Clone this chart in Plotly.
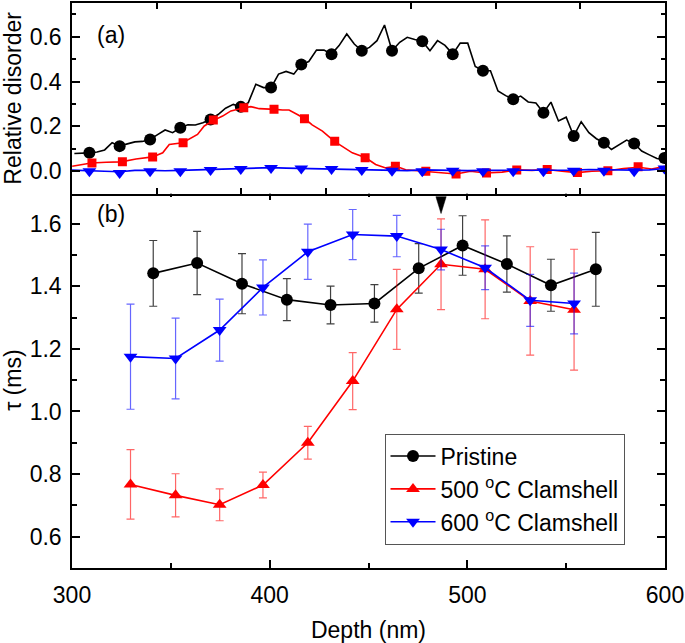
import plotly.graph_objects as go

# ---------------- Panel (a): relative disorder ----------------
# Pristine: dense line + sparse markers
pris_line_x = [301.2, 305.0, 308.8, 312.7, 316.5, 320.3, 324.1, 328.0, 331.8, 335.6,
               339.5, 343.3, 347.1, 350.9, 354.8, 358.6, 362.4, 366.2, 370.1, 373.9,
               377.7, 381.6, 385.4, 389.2, 393.0, 396.9, 400.7, 404.5, 408.3, 412.2,
               416.0, 419.8, 423.7, 427.5, 431.3, 435.1, 439.0, 442.8, 446.6, 450.5,
               454.3, 458.1, 461.9, 465.8, 469.6, 473.4, 477.2, 481.1, 484.9, 488.7,
               492.6, 496.4, 500.2, 504.0, 507.9, 511.7, 515.5, 519.4, 523.2, 527.0,
               530.8, 534.7, 538.5, 542.3, 546.1, 550.0, 553.8, 557.6, 561.5, 565.3,
               569.1, 572.9, 576.8, 580.6, 584.4, 588.2, 592.1, 595.9, 599.7]
pris_line_y = [0.079, 0.080, 0.082, 0.086, 0.095, 0.127, 0.112, 0.122, 0.131, 0.133,
               0.142, 0.163, 0.184, 0.172, 0.194, 0.207, 0.206, 0.216, 0.231, 0.253,
               0.281, 0.298, 0.287, 0.306, 0.388, 0.373, 0.373, 0.433, 0.445, 0.433,
               0.476, 0.489, 0.540, 0.540, 0.522, 0.560, 0.612, 0.567, 0.537, 0.552,
               0.582, 0.652, 0.537, 0.575, 0.597, 0.587, 0.580, 0.537, 0.582, 0.561,
               0.522, 0.571, 0.571, 0.467, 0.448, 0.448, 0.358, 0.337, 0.321, 0.335,
               0.309, 0.304, 0.261, 0.308, 0.224, 0.241, 0.157, 0.221, 0.172, 0.145,
               0.127, 0.097, 0.118, 0.139, 0.124, 0.090, 0.073, 0.057, 0.051]
pris_mark_x = [308.8, 324.1, 339.5, 354.8, 370.1, 385.4, 400.7, 416.0, 431.3, 446.6,
               461.9, 477.2, 492.6, 507.9, 523.2, 538.5, 553.8, 569.1, 584.4, 599.7]
pris_mark_y = [0.082, 0.112, 0.142, 0.194, 0.231, 0.287, 0.373, 0.476, 0.522, 0.537,
               0.537, 0.580, 0.522, 0.448, 0.321, 0.261, 0.157, 0.127, 0.124, 0.059]

# 500 C clamshell (panel a)
c500_line_x = [300.1, 309.7, 317.3, 324.8, 332.4, 340.8, 345.9, 349.2, 356.0, 360.2,
               363.5, 366.9, 371.9, 376.2, 380.4, 387.1, 390.5, 394.7, 398.1, 402.8,
               406.5, 409.8, 414.0, 417.8, 421.5, 426.7, 432.6, 436.8, 441.8, 448.6,
               453.6, 458.7, 464.0, 468.8, 473.8, 479.7, 486.5, 494.3, 501.6, 509.2,
               517.6, 525.2, 532.7, 540.3, 547.9, 555.5, 563.0, 571.1, 579.0, 586.6,
               593.3, 600.0]
c500_line_y = [0.022, 0.037, 0.040, 0.042, 0.055, 0.064, 0.082, 0.119, 0.127, 0.149,
               0.164, 0.202, 0.228, 0.246, 0.269, 0.283, 0.288, 0.279, 0.279, 0.276,
               0.273, 0.273, 0.253, 0.234, 0.207, 0.179, 0.134, 0.112, 0.082, 0.060,
               0.030, 0.015, 0.022, 0.007, 0.003, 0.000, -0.008, -0.012, 0.000, -0.008,
               -0.004, 0.006, 0.004, 0.008, 0.000, -0.006, 0.000, 0.002, 0.012, 0.018,
               0.010, 0.022]
c500_mark_x = [310.1, 325.5, 340.8, 356.2, 371.5, 386.9, 402.2, 417.6, 432.9, 448.3,
               463.6, 479.0, 494.3, 509.7, 525.0, 540.4, 555.7, 571.1, 586.4]
c500_mark_y = [0.037, 0.042, 0.064, 0.127, 0.228, 0.283, 0.276, 0.234, 0.134, 0.060,
               0.022, 0.000, -0.012, -0.008, 0.006, 0.008, -0.006, 0.002, 0.020]

# 600 C clamshell (panel a)
c600_line_x = [300.0, 308.8, 316.5, 324.1, 331.8, 339.5, 347.1, 354.8, 362.4, 370.1,
               377.7, 385.4, 393.0, 400.7, 408.3, 416.0, 423.7, 431.3, 439.0, 446.6,
               454.3, 461.9, 469.6, 477.2, 484.9, 492.6, 500.2, 507.9, 515.5, 523.2,
               530.8, 538.5, 546.1, 553.8, 561.5, 569.1, 576.8, 584.4, 592.1, 599.7]
c600_line_y = [0.005, 0.004, 0.000, -0.002, 0.004, 0.004, 0.002, 0.004, 0.006, 0.010,
               0.012, 0.013, 0.016, 0.016, 0.014, 0.013, 0.012, 0.011, 0.010, 0.008,
               0.006, 0.004, 0.003, 0.006, 0.004, 0.002, 0.003, 0.004, 0.004, 0.004,
               0.004, 0.004, 0.004, 0.005, 0.008, 0.006, 0.004, 0.005, 0.006, 0.012]
c600_mark_x = [308.8, 324.1, 339.5, 354.8, 370.1, 385.4, 400.7, 416.0, 431.3, 446.6,
               461.9, 477.2, 492.6, 507.9, 523.2, 538.5, 553.8, 569.1, 584.4, 599.7]
c600_mark_y = [0.000, -0.008, 0.000, 0.000, 0.006, 0.010, 0.014, 0.012, 0.010, 0.006,
               0.002, 0.000, 0.002, 0.000, 0.000, 0.000, 0.002, 0.002, 0.000, 0.012]

# ---------------- Panel (b): tau (ms) ----------------
pris_tau_x = [341.1, 363.3, 386.0, 408.7, 430.8, 453.0, 475.4, 497.6, 520.0, 542.3, 565.0]
pris_tau = [1.441, 1.474, 1.408, 1.357, 1.340, 1.345, 1.457, 1.530, 1.471, 1.403, 1.454]
pris_err = [0.105, 0.101, 0.096, 0.067, 0.060, 0.060, 0.079, 0.095, 0.090, 0.083, 0.118]

c_tau_x = [329.6, 352.4, 374.7, 396.6, 419.3, 442.0, 464.3, 486.7, 509.0, 531.8, 554.0]
c500_tau = [0.767, 0.732, 0.702, 0.765, 0.900, 1.097, 1.326, 1.470, 1.454, 1.353, 1.325]
c500_err = [0.111, 0.069, 0.051, 0.041, 0.052, 0.091, 0.128, 0.145, 0.158, 0.173, 0.193]
c600_tau = [1.175, 1.169, 1.260, 1.396, 1.510, 1.565, 1.560, 1.517, 1.459, 1.355, 1.345]
c600_err = [0.168, 0.129, 0.099, 0.088, 0.088, 0.080, 0.066, 0.065, 0.070, 0.083, 0.097]

# arrow marking a depth at the top of panel (b): tip position
arrow_x = 486.7
arrow_y = 1.632
ARROW_HALF_W = 2.6     # nm (style: half width of arrowhead)
ARROW_H = 0.054        # ms (style: arrowhead height)

names = ["Pristine", "500 <sup>o</sup>C Clamshell", "600 <sup>o</sup>C Clamshell"]
x_ticks_a = [300 + 300 * k / 7 for k in range(8)]

FONT = "Liberation Sans, Arial, sans-serif"
FS = 23
BLACK, RED, BLUE = "#000000", "#ff0000", "#0000ff"

fig = go.Figure()

# panel (a) traces
for lx, ly, mx, my, col, sym, sz in [
    (pris_line_x, pris_line_y, pris_mark_x, pris_mark_y, BLACK, "circle", 12),
    (c500_line_x, c500_line_y, c500_mark_x, c500_mark_y, RED, "square", 9),
    (c600_line_x, c600_line_y, c600_mark_x, c600_mark_y, BLUE, "triangle-down", 12),
]:
    fig.add_trace(go.Scatter(x=lx, y=ly, mode="lines", line=dict(color=col, width=1.6),
                             xaxis="x2", yaxis="y2", showlegend=False, hoverinfo="skip"))
    fig.add_trace(go.Scatter(x=mx, y=my, mode="markers",
                             marker=dict(color=col, symbol=sym, size=sz, line=dict(width=0)),
                             xaxis="x2", yaxis="y2", showlegend=False))

# panel (b) traces
for x, y, e, col, ecol, sym, name in [
    (pris_tau_x, pris_tau, pris_err, BLACK, "rgba(0,0,0,0.75)", "circle", names[0]),
    (c_tau_x, c500_tau, c500_err, RED, "rgba(255,0,0,0.6)", "triangle-up", names[1]),
    (c_tau_x, c600_tau, c600_err, BLUE, "rgba(0,0,255,0.6)", "triangle-down", names[2]),
]:
    fig.add_trace(go.Scatter(x=x, y=y, mode="lines+markers", name=name,
                             line=dict(color=col, width=1.6),
                             marker=dict(color=col, symbol=sym, size=12, line=dict(width=0)),
                             error_y=dict(type="data", array=e, visible=True, color=ecol,
                                          thickness=1.2, width=4),
                             xaxis="x", yaxis="y"))

# narrow arrowhead
fig.add_trace(go.Scatter(
    x=[arrow_x - ARROW_HALF_W, arrow_x + ARROW_HALF_W, arrow_x, arrow_x - ARROW_HALF_W],
    y=[arrow_y + ARROW_H, arrow_y + ARROW_H, arrow_y, arrow_y + ARROW_H],
    mode="lines", fill="toself", fillcolor=BLACK, line=dict(color=BLACK, width=0.5),
    showlegend=False, hoverinfo="skip", xaxis="x", yaxis="y"))

axis_common = dict(showline=True, linecolor="black", linewidth=1.5, mirror="allticks",
                   ticks="inside", tickcolor="black", tickwidth=1.5, showgrid=False,
                   zeroline=False, tickfont=dict(family=FONT, size=FS, color="black"))

fig.update_layout(
    width=685, height=643,
    margin=dict(l=72, r=18, t=1, b=75),
    paper_bgcolor="white", plot_bgcolor="white",
    font=dict(family=FONT, size=FS, color="black"),
    xaxis=dict(domain=[0, 1], anchor="y", range=[300, 600], dtick=100, tick0=300,
               ticklen=8, ticklabelstandoff=6, ticklabeloverflow="allow",
               minor=dict(dtick=50, ticks="inside", ticklen=5, tickcolor="black", tickwidth=1.5),
               title=dict(text="Depth (nm)", font=dict(family=FONT, size=FS), standoff=15),
               **axis_common),
    yaxis=dict(domain=[0, 0.665], anchor="x", range=[0.5, 1.7], dtick=0.2, tick0=0,
               tickformat=".1f", ticklen=8, ticklabelstandoff=4,
               minor=dict(dtick=0.1, ticks="inside", ticklen=5, tickcolor="black", tickwidth=1.5),
               title=dict(text="τ (ms)", font=dict(family=FONT, size=FS), standoff=6),
               **axis_common),
    xaxis2=dict(domain=[0, 1], anchor="y2", range=[300, 600], tickmode="array",
                tickvals=x_ticks_a, showticklabels=False, ticklen=6, **axis_common),
    yaxis2=dict(domain=[0.6625, 1], anchor="x2", range=[-0.1, 0.75], dtick=0.2, tick0=0,
                tickformat=".1f", ticklen=8, ticklabelstandoff=4,
                minor=dict(dtick=0.1, ticks="inside", ticklen=4, tickcolor="black", tickwidth=1.5),
                title=dict(text="Relative disorder", font=dict(family=FONT, size=FS), standoff=6),
                **axis_common),
    legend=dict(x=0.527, y=0.238, xanchor="left", yanchor="top",
                bordercolor="#555555", borderwidth=1, bgcolor="white", itemwidth=45,
                font=dict(family=FONT, size=FS), tracegroupgap=0),
    annotations=[
        dict(text="(a)", x=0.0665, y=0.9436, xref="paper", yref="paper", showarrow=False,
             xanchor="center", yanchor="middle", font=dict(family=FONT, size=FS)),
        dict(text="(b)", x=0.0665, y=0.626, xref="paper", yref="paper", showarrow=False,
             xanchor="center", yanchor="middle", font=dict(family=FONT, size=FS)),
    ],
)

fig.write_html("out.html", config={"displayModeBar": False},
               post_script="document.body.style.margin='0px';")
